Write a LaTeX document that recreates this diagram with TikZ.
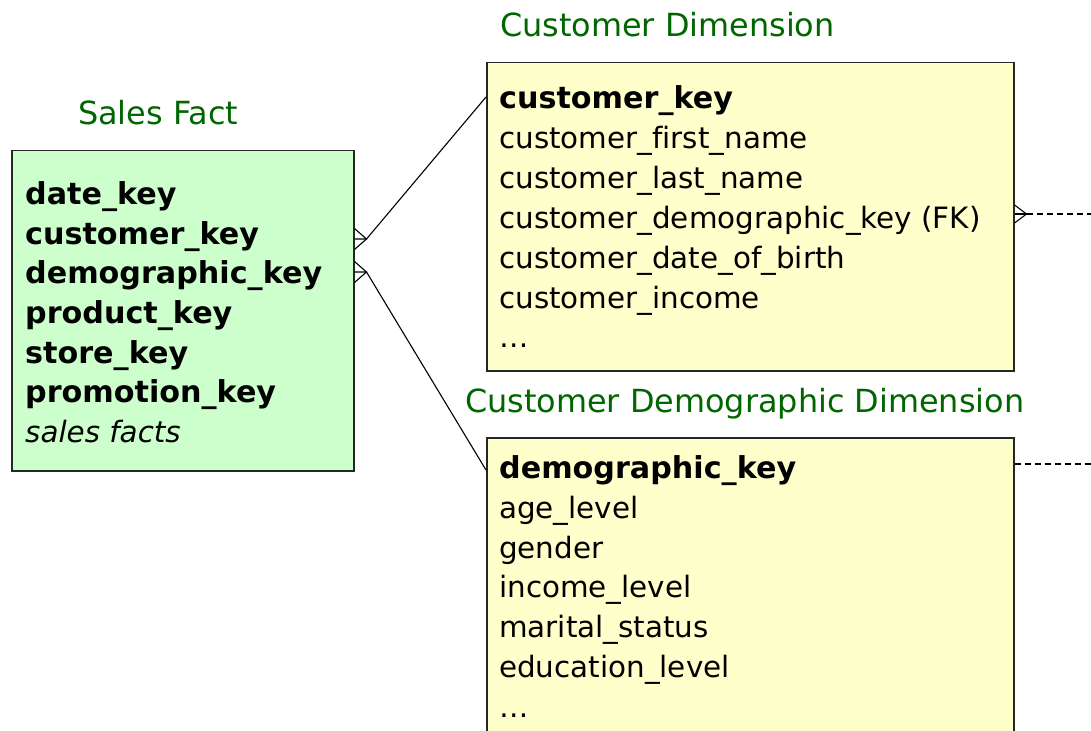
\documentclass[tikz,border=0pt]{standalone}
\usepackage{fontspec}
\setmainfont{DejaVu Sans}[Ligatures=NoCommon]
\usetikzlibrary{calc}
\definecolor{factfill}{RGB}{204,255,204}
\definecolor{dimfill}{RGB}{255,255,204}
\definecolor{titlegreen}{RGB}{0,102,0}
\begin{document}
\begin{tikzpicture}[x=1bp,y=-1bp,
  table/.style={draw=black!85, line width=1.5bp, inner sep=0, anchor=north west},
  attr/.style={anchor=base west, inner sep=0, font=\fontsize{29.5}{35}\selectfont},
  keyattr/.style={attr, font=\fontsize{30.3}{35}\selectfont\bfseries},
  noteattr/.style={attr, font=\fontsize{29.5}{35}\selectfont\itshape},
  tabletitle/.style={anchor=base west, inner sep=0, text=titlegreen, font=\fontsize{32}{38}\selectfont},
  link/.style={line width=1.1bp, draw=black},
  weaklink/.style={link, dash pattern=on 6bp off 4bp}]
\clip (0,0) rectangle (1091,731);
\fill[white] (0,0) rectangle (1091,731);

% tables
\node[table, fill=factfill, minimum width=342bp, minimum height=320bp] (sales) at (11,150) {};
\node[table, fill=dimfill, minimum width=527bp, minimum height=308bp] (cust) at (486,62) {};
\node[table, fill=dimfill, minimum width=527bp, minimum height=320bp] (demo) at (486,437) {};

% titles
\node[tabletitle] (salesTitle) at (78,125) {Sales Fact};
\node[tabletitle] (custTitle) at (500,37) {Customer Dimension};
\node[tabletitle] (demoTitle) at (465,412) {Customer Demographic Dimension};

% sales fact columns
\node[keyattr] (sf1) at (25,204.3) {date\_key};
\node[keyattr] (sf2) at (25,244.0) {customer\_key};
\node[keyattr] (sf3) at (25,283.7) {demographic\_key};
\node[keyattr] (sf4) at (25,323.4) {product\_key};
\node[keyattr] (sf5) at (25,363.1) {store\_key};
\node[keyattr] (sf6) at (25,402.8) {promotion\_key};
\node[noteattr] (sf7) at (25,442.5) {sales facts};

% customer dimension columns
\node[keyattr] (cu1) at (499,108.5) {customer\_key};
\node[attr] (cu2) at (499,148.4) {customer\_first\_name};
\node[attr] (cu3) at (499,188.3) {customer\_last\_name};
\node[attr] (cu4) at (499,228.2) {customer\_demographic\_key (FK)};
\node[attr] (cu5) at (499,268.1) {customer\_date\_of\_birth};
\node[attr] (cu6) at (499,308.0) {customer\_income};
\node[attr] (cu7) at (499,347.9) {…};

% customer demographic dimension columns
\node[keyattr] (de1) at (499,478.5) {demographic\_key};
\node[attr] (de2) at (499,518.3) {age\_level};
\node[attr] (de3) at (499,558.1) {gender};
\node[attr] (de4) at (499,597.9) {income\_level};
\node[attr] (de5) at (499,637.7) {marital\_status};
\node[attr] (de6) at (499,677.5) {education\_level};
\node[attr] (de7) at (499,717.3) {…};

% connection points on the table borders
\coordinate (sfCust) at ($(sales.north east)+(0,89)$);
\coordinate (sfDemo) at ($(sales.north east)+(0,122)$);
\coordinate (cuIn) at ($(cust.north west)+(0,35)$);
\coordinate (deIn) at ($(demo.north west)+(0,33)$);
\coordinate (cuOut) at ($(cust.north east)+(0,152)$);
\coordinate (deOut) at ($(demo.north east)+(0,27)$);
\coordinate (rightEdge) at (1091,0);
\coordinate (cuEnd) at (cuOut -| rightEdge);
\coordinate (deEnd) at (deOut -| rightEdge);

% many-to-one links from the fact table
\draw[link] (sfCust) -- ++(12,0) coordinate (sfCustFoot) -- (cuIn);
\draw[link] ($(sfCust)+(0,-10.5)$) -- (sfCustFoot) -- ($(sfCust)+(0,10.5)$);
\draw[link] (sfDemo) -- ++(12,0) coordinate (sfDemoFoot) -- (deIn);
\draw[link] ($(sfDemo)+(0,-10.5)$) -- (sfDemoFoot) -- ($(sfDemo)+(0,10.5)$);

% outgoing links to further tables
\draw[link] (cuOut) -- ++(12,0) coordinate (cuOutFoot);
\draw[link] ($(cuOut)+(0,-9)$) -- (cuOutFoot) -- ($(cuOut)+(0,9)$);
\draw[weaklink] (cuOutFoot) -- (cuEnd);
\draw[weaklink] (deOut) -- (deEnd);
\end{tikzpicture}
\end{document}
